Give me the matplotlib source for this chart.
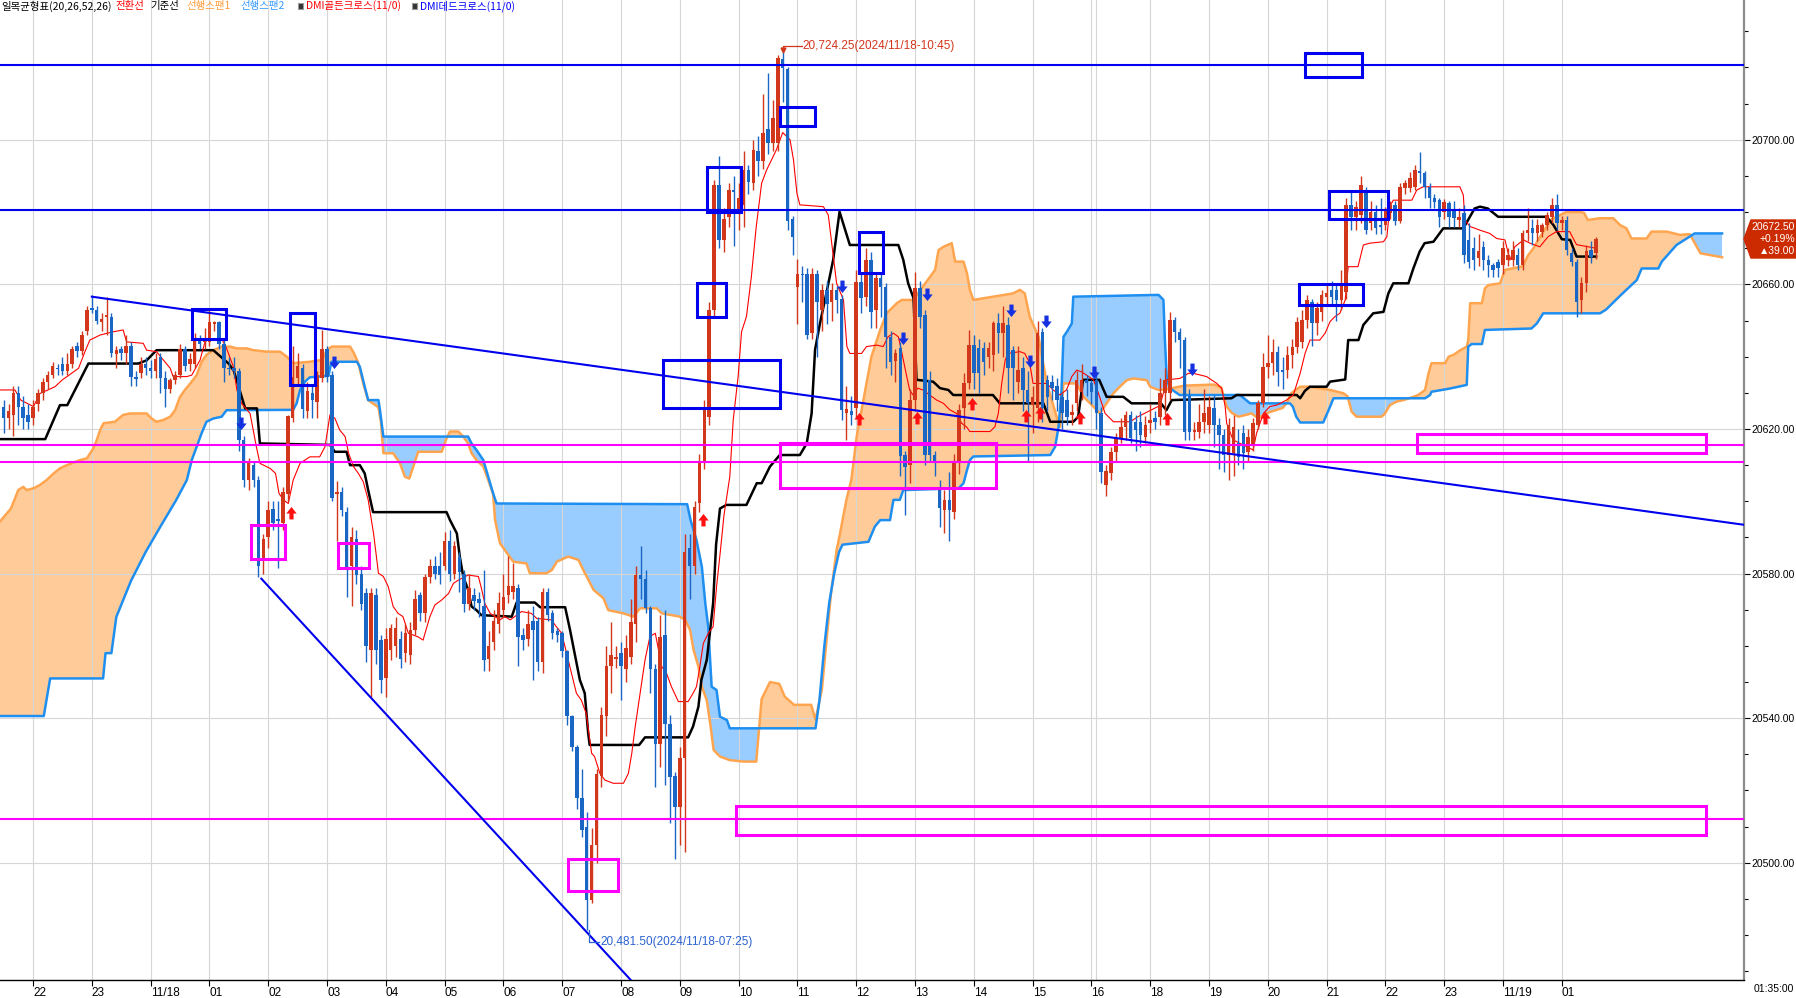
import numpy as np
import matplotlib.pyplot as plt
from matplotlib.patches import Rectangle, Polygon
from matplotlib.path import Path
from matplotlib.ticker import MultipleLocator, FormatStrFormatter

plt.rcParams['font.family'] = ['Liberation Sans', 'DejaVu Sans']

# 5-minute bars, 11/17 21:30 .. 11/19 01:35 (x = bar number)
opens = [
    20626, 20623, 20624, 20630, 20626, 20624, 20623, 20627, 20630, 20633,
    20635, 20637, 20638, 20636, 20638, 20643, 20641.5, 20647, 20653.5, 20653,
    20649.5, 20651, 20651, 20640.7, 20642, 20641, 20643, 20634.5, 20635.5, 20638,
    20637, 20636, 20640, 20634, 20631, 20633.5, 20635, 20642, 20638, 20638,
    20644.5, 20644, 20644, 20649, 20649.5, 20643.5, 20637, 20637, 20636, 20617,
    20606, 20610, 20606, 20584, 20590, 20598, 20595, 20594, 20602, 20623,
    20634, 20637, 20625, 20630, 20627.5, 20634, 20642, 20635, 20602, 20602.5,
    20597, 20582, 20589.5, 20580, 20574.5, 20559, 20574, 20561.5, 20551, 20559,
    20560, 20562, 20558, 20557.5, 20564.5, 20574, 20569, 20579, 20582, 20582,
    20582, 20589, 20580, 20584.5, 20580, 20571.5, 20574, 20573, 20571, 20556.5,
    20561, 20566, 20570, 20574, 20575, 20576, 20563, 20562, 20567, 20567,
    20555.5, 20575, 20569, 20564, 20563.5, 20558.5, 20540.5, 20532, 20518, 20510,
    20489.7, 20505, 20524, 20540.5, 20554.5, 20556.5, 20558, 20553.5, 20557, 20566,
    20579.5, 20578.5, 20570.5, 20553.5, 20533, 20563, 20538.5, 20524, 20515.5, 20529,
    20587, 20582, 20599.4, 20611, 20623.4, 20653, 20687.5, 20672.3, 20678.7, 20686,
    20680, 20681.9, 20691.6, 20688, 20697, 20694, 20703, 20699, 20699, 20722.3,
    20719.5, 20678, 20659.4, 20663, 20663, 20646.5, 20663, 20653, 20658.5, 20655,
    20658.5, 20656, 20624.3, 20625, 20625.7, 20660.8, 20656.6, 20666.7, 20653, 20661.7,
    20659.4, 20645.5, 20638.8, 20642.3, 20612.8, 20610, 20628, 20658.9, 20651.5, 20633.6,
    20612.8, 20603.6, 20597.6, 20600.4, 20597.1, 20611, 20625.7, 20632.6, 20643.2, 20642.3,
    20642.3, 20640, 20640.5, 20649.4, 20646.6, 20648.8, 20641.9, 20633.1, 20636.8, 20630.8,
    20626.6, 20625.7, 20646.9, 20633.6, 20633.1, 20632, 20628.9, 20628, 20623.8, 20627.1,
    20630.3, 20633.6, 20632.6, 20633.6, 20624.3, 20604.5, 20607.7, 20613.7, 20617.4, 20620.6,
    20623.9, 20622, 20622, 20617.9, 20621.6, 20623, 20623.4, 20629.9, 20629.9, 20650.1,
    20646.9, 20644.6, 20629, 20619.3, 20619.3, 20622, 20621.1, 20625.7, 20621.1, 20618.3,
    20612.8, 20613.3, 20616, 20618.8, 20613.7, 20615.6, 20621.1, 20627.1, 20637.2, 20638.2,
    20641.4, 20636.3, 20636.3, 20640.5, 20642.8, 20644.2, 20650.1, 20655.2, 20649.2, 20652.5,
    20656.6, 20658.4, 20658.4, 20655.7, 20658, 20682, 20678.7, 20679.2, 20686.1, 20676.9,
    20680.1, 20676.4, 20676.4, 20679.7, 20682, 20677.4, 20686.6, 20686.6, 20687, 20691.3,
    20690.7, 20687, 20683.8, 20683.3, 20680.1, 20682.5, 20680.6, 20677.8, 20679.7, 20672.3,
    20670, 20667.2, 20670.4, 20666.7, 20665.4, 20666.3, 20665.4, 20666.7, 20666.7, 20668.1,
    20665.4, 20674.1, 20675.5, 20674.1, 20674.6, 20676.4, 20678.7, 20682, 20676.9, 20677.8,
    20668.6, 20666.3, 20655.7, 20660.3, 20669.5, 20668.6]
highs = [
    20628, 20627, 20632, 20632, 20629, 20627, 20628, 20631, 20634, 20636,
    20638.5, 20638, 20640, 20641, 20643, 20644, 20647, 20654, 20657, 20654,
    20652, 20656.5, 20652, 20643, 20643, 20646, 20644, 20636, 20640, 20640,
    20639, 20641, 20641, 20636, 20634, 20636, 20643.5, 20643, 20641, 20646.5,
    20646, 20648, 20653, 20650, 20650, 20645, 20640, 20640, 20637, 20618,
    20612, 20611, 20607, 20591, 20600, 20600, 20600, 20604, 20624, 20643,
    20641, 20638, 20633, 20632, 20636, 20647.5, 20643, 20636, 20605.5, 20604,
    20598.5, 20593, 20592, 20582, 20576, 20576, 20576, 20563, 20565, 20566,
    20568, 20564, 20566, 20566.5, 20575.5, 20575, 20580, 20584, 20585, 20586,
    20591.5, 20592, 20589, 20586, 20581, 20580, 20576, 20575, 20581, 20564,
    20570, 20575, 20580, 20585, 20583, 20577, 20565, 20570, 20571, 20568,
    20576, 20576, 20570, 20565, 20564, 20559, 20541, 20532.5, 20526, 20514,
    20509.5, 20526, 20543, 20560, 20566.5, 20560, 20561, 20563, 20573, 20582,
    20587.5, 20581, 20571, 20555, 20568.5, 20570, 20541, 20525, 20532, 20591,
    20591, 20600, 20613, 20628, 20655, 20689, 20695.5, 20681, 20688, 20690,
    20688, 20697, 20693, 20700, 20701, 20712.8, 20718.4, 20711, 20723.5, 20724.25,
    20720, 20679, 20667, 20665, 20664.5, 20664.5, 20664, 20660, 20661, 20660.5,
    20659.5, 20657, 20632, 20629, 20664, 20663, 20670, 20669, 20663, 20663,
    20660.5, 20647, 20642, 20644, 20614, 20631, 20663.5, 20661, 20653, 20636,
    20614, 20606, 20603, 20608, 20613, 20627, 20635.5, 20647.5, 20646, 20645,
    20644, 20644, 20650, 20652, 20654, 20651, 20643, 20643, 20640, 20636,
    20632, 20650, 20648, 20635, 20635, 20634, 20630, 20631, 20627, 20636,
    20638, 20635, 20633.5, 20636, 20626, 20610, 20615, 20619, 20623, 20625,
    20625, 20624, 20625, 20623.5, 20627, 20625, 20634, 20637, 20652.5, 20651,
    20648, 20645.5, 20631, 20622, 20627, 20631, 20629, 20629.5, 20623, 20620,
    20623, 20624, 20620, 20621, 20620, 20623, 20628, 20641, 20646, 20645,
    20643, 20640, 20643, 20645, 20651, 20653, 20657, 20656, 20655, 20658.5,
    20660, 20661, 20660, 20664, 20684, 20686, 20683, 20690, 20687, 20683,
    20682, 20684, 20681.5, 20683, 20683, 20688, 20689, 20691, 20693, 20696.7,
    20691.5, 20688, 20685, 20684, 20683.5, 20683, 20683, 20681, 20682, 20677,
    20673, 20674, 20672, 20668, 20666, 20667, 20672, 20670, 20672, 20670,
    20675, 20681, 20678, 20678, 20677, 20680, 20684, 20685, 20679, 20679,
    20670, 20667, 20662, 20671, 20672, 20673]
lows = [
    20619, 20620, 20618, 20621, 20620, 20620, 20621, 20625, 20628, 20631,
    20634, 20635, 20635, 20635, 20637, 20640, 20640.5, 20646, 20652, 20649,
    20647, 20646, 20640, 20637, 20639, 20638, 20632, 20632, 20634, 20635,
    20634, 20634, 20630, 20626, 20630, 20632.5, 20634, 20636, 20636, 20637,
    20642, 20642, 20643, 20647, 20642, 20633, 20635, 20634, 20614, 20604,
    20603, 20604, 20579, 20580, 20587, 20592, 20581.5, 20592, 20600, 20622,
    20632, 20623, 20623, 20623, 20623, 20633, 20633, 20600, 20589, 20596,
    20573.5, 20571, 20577, 20570, 20555.5, 20546, 20555, 20547, 20546, 20556,
    20557, 20554, 20555.5, 20555, 20563, 20567, 20566.5, 20577.5, 20578.5, 20577,
    20581, 20578, 20578.5, 20575, 20569.5, 20570, 20570, 20568, 20553, 20553,
    20559, 20563.5, 20568, 20572, 20573, 20554.5, 20559, 20560, 20550.5, 20553,
    20552.5, 20567, 20562, 20561, 20557, 20538, 20531, 20515, 20507, 20481.5,
    20489, 20500, 20521, 20535, 20547, 20554, 20545, 20550, 20555, 20561,
    20573, 20569, 20547, 20521, 20526.5, 20521.5, 20511, 20501, 20505, 20503,
    20573, 20580, 20597, 20609, 20621, 20651, 20670, 20669, 20676, 20670.5,
    20675, 20676, 20685, 20686, 20690, 20692, 20696, 20697, 20697, 20710.5,
    20675, 20668, 20649, 20655, 20645, 20645, 20640, 20647, 20649, 20650,
    20652, 20622.5, 20617, 20621, 20623, 20652, 20654, 20648, 20648, 20651,
    20637, 20635, 20633, 20607, 20596.2, 20605, 20625, 20648, 20610, 20611,
    20607, 20593, 20591.1, 20589, 20595, 20607.5, 20620, 20631, 20631, 20630,
    20635, 20637, 20636, 20641, 20640, 20630, 20628, 20630, 20625, 20611,
    20619, 20622, 20622, 20625, 20628, 20625, 20620, 20621, 20621, 20625,
    20628, 20629, 20627, 20620, 20605, 20601.5, 20606, 20611, 20616, 20617,
    20616, 20614, 20615, 20616, 20619, 20620, 20621, 20624, 20628, 20644,
    20637, 20617, 20617, 20617, 20617.5, 20619, 20619, 20615, 20609, 20608,
    20606, 20607, 20610, 20609, 20611, 20614, 20620, 20626, 20634, 20635,
    20632, 20631, 20634, 20637, 20641, 20642.5, 20648, 20643, 20646, 20650,
    20654, 20654, 20650, 20653, 20656, 20675, 20675, 20677, 20674, 20675,
    20674, 20674, 20675, 20678, 20676.5, 20677, 20685, 20685.5, 20686, 20688,
    20684, 20681, 20681, 20676, 20678, 20676, 20676, 20676, 20666, 20664.5,
    20664, 20665, 20664, 20662, 20662, 20662, 20663, 20665, 20665, 20664,
    20664, 20672, 20671, 20672, 20673, 20675, 20677, 20675, 20675, 20668,
    20665, 20651, 20652, 20658, 20666, 20667]
closes = [
    20623, 20625, 20630, 20626, 20623, 20622, 20626, 20630, 20633, 20635,
    20637.5, 20636.5, 20636, 20638, 20642, 20641.5, 20646, 20653, 20653, 20650,
    20650.5, 20651.5, 20641, 20641.8, 20641, 20643, 20634.5, 20633.7, 20638, 20637,
    20636, 20639.5, 20634, 20631, 20633.5, 20635, 20642, 20637.5, 20639.5, 20645,
    20643.5, 20644.5, 20649.5, 20649.5, 20643.5, 20637, 20636.5, 20636, 20617, 20606,
    20610.5, 20606, 20582, 20589.5, 20597.5, 20594, 20594.5, 20602.5, 20623.5, 20634.5,
    20637.5, 20625.5, 20630.5, 20628, 20635, 20642, 20634.5, 20601, 20602.5, 20597.5,
    20581.5, 20590, 20579.5, 20571.5, 20560, 20574.5, 20559, 20550.5, 20562, 20565,
    20565, 20556.5, 20563.5, 20564.5, 20573, 20569, 20579, 20582, 20580, 20579.5,
    20589, 20580, 20587.5, 20580.5, 20571.5, 20576, 20572.5, 20572, 20556, 20560,
    20567, 20572, 20573.5, 20576.5, 20576.5, 20562.5, 20561.5, 20566, 20564.5, 20555.5,
    20575, 20568.5, 20563.5, 20563, 20558.5, 20540.5, 20532, 20518, 20509, 20489.7,
    20505, 20524.5, 20541, 20554.5, 20557.5, 20557, 20554.5, 20559.5, 20566.5, 20579.5,
    20578.5, 20570.5, 20553.5, 20533, 20562.5, 20538.5, 20523.8, 20515.5, 20529, 20586,
    20582, 20598.5, 20611, 20625.3, 20652.9, 20687.5, 20672.3, 20678, 20686, 20685.5,
    20684, 20691.6, 20688.4, 20697.2, 20694, 20702, 20699, 20706, 20722.7, 20719.8,
    20677.5, 20673, 20663, 20662.5, 20646, 20663, 20655, 20658.5, 20654.5, 20658.5,
    20655.7, 20625.3, 20625.5, 20624, 20660.8, 20656.2, 20666.7, 20652.5, 20661.7, 20659.4,
    20645.5, 20638.6, 20640.9, 20612.4, 20609.6, 20628, 20658.9, 20651.1, 20612.8, 20612.8,
    20610.5, 20598.1, 20600.4, 20597.6, 20611, 20625.3, 20632.6, 20643.2, 20635.4, 20635.4,
    20638.6, 20642.3, 20649.2, 20646.6, 20649.2, 20636.8, 20636.8, 20636.3, 20630.8, 20627.1,
    20628.9, 20646.5, 20625.7, 20628.9, 20631.3, 20628, 20624.3, 20623.4, 20624.8, 20633.6,
    20633.6, 20632.6, 20630.3, 20624.3, 20608.2, 20608.5, 20613.7, 20617.4, 20620.6, 20623.9,
    20617.4, 20619.7, 20618.3, 20621.1, 20622.5, 20622, 20629.9, 20633.6, 20650.1, 20646.9,
    20644.6, 20619.3, 20619.3, 20619.7, 20622, 20624.3, 20626.2, 20621.1, 20618.3, 20612.8,
    20621.1, 20620.6, 20612.3, 20613.3, 20617.9, 20621.6, 20627.1, 20637.2, 20638.2, 20641.4,
    20635.9, 20635.9, 20640.5, 20642.8, 20649.7, 20650.1, 20655.7, 20649.2, 20653.4, 20657.1,
    20657.5, 20656.6, 20655.7, 20660.3, 20682, 20678.7, 20681.5, 20687.5, 20675, 20680.1,
    20675.5, 20676, 20680.6, 20682, 20677.4, 20687, 20688, 20689.4, 20691.6, 20690.7,
    20687, 20683.8, 20682.9, 20678.7, 20682.9, 20678.7, 20678.3, 20678.7, 20668.1, 20666.3,
    20666.7, 20669.1, 20666.7, 20665.4, 20664, 20664.4, 20670, 20668.1, 20669.5, 20665.4,
    20674.1, 20675, 20674.1, 20676.4, 20676.4, 20679.2, 20682, 20676.9, 20677.8, 20669.5,
    20666.3, 20655.2, 20660.3, 20669.1, 20667.7, 20672.5]

# ichimoku lines as (bar, price) vertices
tenkan = [(-1, 20630.8), (2.3, 20630.8), (3.5, 20628), (6.1, 20626.2), (7.4, 20629.8), (10.5, 20631.7),
          (11.9, 20633.5), (15.3, 20636.8), (16.6, 20641.4), (17.6, 20644.6), (19.7, 20646), (22.4, 20646.9),
          (24.4, 20647.4), (25.1, 20644.1), (28.5, 20643.7), (29.2, 20641.8), (31.2, 20641.4), (32.6, 20639.1),
          (34, 20636.8), (34.6, 20634.5), (37.4, 20634.5), (38.4, 20634.9), (40.1, 20639.1), (41.1, 20644.1),
          (42.1, 20645), (44.5, 20645), (45.5, 20642.3), (46.9, 20637.2), (47.6, 20630.8), (48.6, 20627),
          (50.3, 20624.3), (51.6, 20615), (52.3, 20610.5), (54.4, 20609.1), (55.5, 20607.7), (56.2, 20602.2),
          (57.1, 20600.4), (58.1, 20599.4), (59.1, 20605.9), (60.5, 20610.5), (62.5, 20612.3), (64.5, 20612.3),
          (65.6, 20615.1), (66.6, 20623.9), (67.6, 20623), (68.6, 20619.7), (69.7, 20617.9), (70.4, 20613.3),
          (71.4, 20609.6), (72.4, 20607.7), (73.4, 20605.4), (74.4, 20600.4), (75.5, 20591.1), (76.5, 20580.1),
          (77.5, 20579.2), (78.5, 20576.4), (79.5, 20570.9), (80.5, 20569), (81.5, 20568.1), (82.6, 20563.5),
          (84.6, 20562.5), (85.6, 20561.6), (87, 20568.1), (88, 20571.3), (89.4, 20572.7), (90.8, 20574.5),
          (91.8, 20577.3), (92.8, 20578.2), (94.8, 20579.6), (96.9, 20579.2), (97.5, 20576), (98.2, 20571.8),
          (99.3, 20569), (100.3, 20568.1), (101.3, 20567.2), (102.3, 20568.1), (103.4, 20567.2), (105.7, 20569.5),
          (107.7, 20569), (108.8, 20567.6), (111.8, 20567.2), (112.8, 20565.3), (113.9, 20563.5), (114.9, 20557.9),
          (115.9, 20552.4), (116.9, 20546.9), (117.9, 20545), (118.9, 20541.3), (120, 20530.3), (120.6, 20529.4),
          (121.7, 20524.7), (122.7, 20522.9), (124.4, 20522), (126.5, 20522), (127.5, 20524.7), (128.2, 20530.3),
          (128.9, 20537.7), (129.9, 20546.9), (130.9, 20556.1), (131.9, 20562.6), (133, 20563.5), (134.3, 20554.3),
          (135.3, 20552.4), (136.3, 20548.7), (137.7, 20544.6), (139.7, 20544.6), (140.7, 20546.9), (141.4, 20548.7),
          (142.1, 20554.3), (142.8, 20560.7), (143.8, 20563.5), (144.8, 20565.3), (145.5, 20576.4), (146.3, 20586.5),
          (147, 20596), (148.2, 20606.8), (148.9, 20622.5), (149.9, 20634.5), (150.6, 20646.9), (151.6, 20651.1),
          (152.6, 20662.1), (153.6, 20676), (154.7, 20688), (155.7, 20691.6), (156.7, 20694.4), (157.7, 20697.2),
          (159, 20702), (160.5, 20700), (161.2, 20694.4), (161.9, 20685.2), (162.5, 20682), (167.3, 20681.5),
          (168.3, 20679.2), (169, 20671.4), (170, 20660.3), (171.4, 20655.7), (172.1, 20642.8), (172.7, 20640.9),
          (175.1, 20640.9), (176.1, 20642.8), (178.2, 20643.2), (179.5, 20642.8), (180.5, 20645.5), (181.6, 20646.5),
          (182.6, 20645.5), (183.2, 20641.9), (183.9, 20637.2), (184.9, 20630.8), (185.6, 20629.4), (186.6, 20631.3),
          (187.6, 20630.8), (189, 20629.4), (190.4, 20628), (191.8, 20627.1), (193.1, 20625.3), (194.5, 20624.3),
          (195.5, 20621.6), (196.5, 20620.6), (197.2, 20619.3), (201.3, 20619.3), (202.3, 20620.6), (203, 20624.3),
          (203.7, 20632.6), (204.4, 20639.1), (205, 20640.9), (207.4, 20641.4), (208.4, 20640.9), (209.4, 20638.2),
          (210.1, 20632.6), (212.9, 20632.6), (214.2, 20630.8), (215.6, 20629.4), (216.9, 20630.8), (218, 20634.5),
          (219, 20636.3), (220, 20635.8), (221, 20634.9), (222.4, 20633.6), (223.4, 20630), (224.8, 20624.3),
          (226.5, 20622), (229.9, 20622), (231.5, 20623.4), (236, 20626.5), (237.4, 20633.6), (240.1, 20634),
          (241.8, 20635.4), (242.8, 20635.4), (245.5, 20634.5), (247.6, 20632.6), (248.6, 20631.2), (249.3, 20626.2),
          (249.6, 20621.6), (250.9, 20617), (255, 20614.2), (255.7, 20618.8), (257.1, 20624.3), (258.4, 20626.2),
          (259.8, 20626.6), (261.8, 20628), (263.2, 20629.4), (264.6, 20635.4), (265.6, 20640.9), (266.6, 20644.6),
          (268.6, 20644.6), (269.7, 20646.5), (270.7, 20649.7), (271.7, 20651.1), (272.7, 20652), (273.8, 20655.7),
          (274.4, 20664.9), (276.4, 20664.9), (277.5, 20670.9), (278.8, 20671.4), (281.6, 20671.8), (282.3, 20673.2),
          (282.9, 20681.5), (283.6, 20683.3), (287.4, 20683.3), (288.4, 20686.1), (289.7, 20687), (297.2, 20687),
          (297.9, 20684.7), (298.2, 20677.8), (299.3, 20676), (301.3, 20675), (303.3, 20674.1), (304.7, 20672.7),
          (306.4, 20672.3), (307.4, 20666.7), (308.4, 20670.4), (310.2, 20672.3), (311.5, 20671.4), (313.5, 20670.4),
          (315.2, 20673.2), (316.9, 20674.6), (319.6, 20674.6), (321, 20671), (325, 20670)]

kijun = [(-1, 20617.2), (8.5, 20617.2), (11.5, 20626.6), (13, 20626.6), (17.3, 20638.1), (27.5, 20638.1),
         (29.2, 20639), (31.2, 20641.8), (42.8, 20641.8), (46, 20638), (47, 20636), (49.3, 20625.7),
         (51.7, 20625.7), (52.3, 20616), (66.6, 20615.6), (67.6, 20613.7), (70, 20613.7), (70.7, 20610),
         (72.7, 20610), (73.7, 20607.7), (74.4, 20603.1), (75.4, 20597), (90.4, 20597), (91.1, 20594.8),
         (92.5, 20591.1), (93.1, 20584.7), (93.8, 20579.2), (94.8, 20575.5), (95.5, 20570.9), (96.5, 20569.9),
         (97.5, 20568.5), (103.7, 20568.1), (104.7, 20572), (108.4, 20572), (109.5, 20570.7), (114.6, 20570.7),
         (115.6, 20564.4), (117.6, 20550.6), (118.6, 20546.9), (119.3, 20535.8), (119.6, 20532.6), (129.7, 20532.6),
         (130.9, 20534.7), (139.7, 20534.7), (140.7, 20537.7), (141.8, 20543.2), (142.4, 20550.6), (143.5, 20556.1),
         (144.2, 20564.4), (144.8, 20571.8), (145.4, 20588), (146.2, 20598), (147.5, 20599), (151.6, 20599),
         (153.7, 20605), (154.7, 20605), (156.4, 20609.6), (158.4, 20612.8), (162.5, 20612.8), (163.9, 20616),
         (164.9, 20624.3), (165.6, 20641.9), (166.6, 20649.2), (167.9, 20657.5), (169.3, 20666.8), (170.6, 20680.1),
         (172.7, 20670.9), (182.6, 20670.9), (183.6, 20666.8), (184.6, 20660.3), (185.7, 20656.2), (186.3, 20633.6),
         (189.7, 20633.1), (191.1, 20631.3), (192.8, 20630.8), (193.8, 20629.4), (201.9, 20629.4), (203.3, 20627.1),
         (212.2, 20627.1), (213.6, 20622), (218.3, 20622), (219.3, 20623.4), (220.3, 20633.6), (223.6, 20633.6),
         (225.1, 20628.9), (228.5, 20628.9), (230.2, 20627.1), (236.2, 20627.1), (237.3, 20625.2), (238.4, 20628),
         (250.6, 20628.5), (251.6, 20629.4), (263.9, 20629.4), (264.6, 20628.5), (265.6, 20630.6), (266.6, 20631.7),
         (270, 20631.7), (270.7, 20633.1), (273.8, 20633.7), (274.4, 20644.6), (276.5, 20644.6), (277.5, 20648.8),
         (279.5, 20652), (281.6, 20652.4), (282.6, 20657.5), (283.6, 20660.3), (286.7, 20660.3), (287.7, 20664.4),
         (289, 20669.1), (290, 20671.4), (291.8, 20671.8), (293.8, 20675.5), (297.9, 20675.5), (300.2, 20681),
         (301.3, 20681.5), (302.9, 20681), (305, 20678.7), (314.9, 20678.7), (316.3, 20676.4), (318, 20672.5),
         (319.7, 20672.3), (321, 20667.7), (325, 20667.7)]

span1 = [(-1, 20594), (1.5, 20598), (3, 20603.1), (4, 20604), (4.7, 20603.1), (6.1, 20603.6), (7.4, 20604.5),
         (8.8, 20605.9), (10.2, 20607.7), (11.5, 20609.1), (12.9, 20610), (15.6, 20611.4), (17, 20611.9),
         (18.3, 20614.6), (19, 20616.9), (19.7, 20619.7), (20.4, 20621.6), (22.7, 20622), (24.4, 20623.9),
         (25.8, 20624.3), (29.2, 20624.3), (30.2, 20622.9), (31.2, 20622), (32.6, 20622.5), (34, 20623.4),
         (35, 20625.2), (36, 20628.9), (37, 20630.8), (38.1, 20632.6), (39.4, 20634.9), (40.4, 20638.6),
         (41.4, 20640.5), (42.8, 20641.8), (44.5, 20642.8), (46.2, 20642.8), (47.6, 20642.3), (49.6, 20642.3),
         (51, 20641.8), (53.7, 20641.4), (56.4, 20641.4), (57.8, 20640), (59.1, 20638.2), (62.5, 20638.6),
         (65, 20639.1), (66, 20641.9), (67, 20642.8), (70.7, 20642.8), (71.5, 20641), (72.4, 20638.2),
         (73.5, 20632), (74.4, 20628), (76.5, 20626), (77, 20622), (77.5, 20613.3), (79.5, 20613.3),
         (80.9, 20610.5), (81.9, 20606.8), (82.8, 20606.3), (83.6, 20609.6), (84.6, 20613.7), (89.4, 20613.7),
         (90.4, 20617.4), (91.1, 20619.3), (92.8, 20619.3), (93.8, 20617.9), (94.8, 20616), (95.5, 20613.3),
         (96.5, 20611.4), (97.9, 20609.6), (98.9, 20605.9), (99.9, 20602), (100.3, 20594.8), (101.3, 20588.4),
         (104, 20583.3), (106.7, 20582.8), (107.4, 20580.1), (110.8, 20580.1), (111.9, 20581), (112.9, 20583.3),
         (115.2, 20584.7), (117.3, 20583.8), (118.3, 20581), (120.4, 20575.5), (122.4, 20573.2), (123.4, 20569.9),
         (126.5, 20569), (128.5, 20568.1), (129.9, 20570.4), (133.3, 20570.4), (134.3, 20569), (138, 20568.1),
         (139.1, 20567.2), (140.1, 20564.4), (140.8, 20558.9), (141.8, 20554.3), (142.5, 20548.7), (143.5, 20545),
         (144.2, 20538.6), (144.9, 20531.2), (146.2, 20529.4), (148.2, 20528.4), (151, 20528), (153.6, 20528),
         (154.7, 20545.3), (156.4, 20550), (158.3, 20549.5), (159.4, 20546), (161.3, 20543.7), (164.8, 20543.7),
         (165.7, 20539.6), (167, 20548), (168.8, 20573.8), (170, 20586.5), (170.7, 20591.1), (172, 20600.4),
         (173, 20605.9), (174.1, 20617.9), (175.1, 20625.3), (176.1, 20632.6), (177.1, 20640), (178.9, 20647.4),
         (180.2, 20652), (182.3, 20654.8), (183.3, 20655.7), (185.6, 20655.7), (190.1, 20664), (190.8, 20669.5),
         (191.8, 20670.4), (193.5, 20671.4), (194.2, 20666.3), (195.9, 20666.3), (196.6, 20663.1), (197.2, 20658.5),
         (197.9, 20655.7), (201.9, 20656.6), (206, 20657.5), (207.4, 20658.5), (208.4, 20657.5), (209.4, 20651.1),
         (211.2, 20645.5), (212.9, 20632.6), (213.9, 20628), (214.9, 20623.4), (215.6, 20620.6), (216, 20628),
         (216.3, 20632.6), (219, 20632.6), (220.4, 20628.9), (222.4, 20626.2), (223.7, 20624.3), (226.5, 20629.9),
         (227.8, 20631.7), (229.2, 20633.5), (230.6, 20634), (233.3, 20633.5), (234, 20631.7), (235.7, 20630.8),
         (237.4, 20631), (241, 20632), (247, 20632.3), (248.5, 20631.5), (249.6, 20626.2), (250.6, 20624.5),
         (252, 20623.4), (254.7, 20624.3), (256, 20623), (258, 20624.5), (261, 20625.8), (261.8, 20627.1),
         (262.8, 20629.9), (264.6, 20631.7), (266.3, 20631.7), (270.7, 20630.8), (273.4, 20629.9), (274.3, 20629),
         (275.1, 20624.8), (276.1, 20623.4), (281.2, 20623.4), (281.9, 20624.3), (282.9, 20626.6), (284.3, 20627.6),
         (285.7, 20628), (287.7, 20628.9), (288.7, 20629.4), (290.1, 20630.8), (290.8, 20635.4), (291.4, 20638.2),
         (294.2, 20638.2), (294.9, 20640), (295.9, 20640.5), (297.3, 20641.8), (298.6, 20642.8), (298.9, 20644.6),
         (299.3, 20654.8), (301.7, 20654.8), (302.3, 20658.9), (303, 20659.8), (305.4, 20660.3), (306.4, 20664),
         (310, 20665), (311.1, 20668), (312.2, 20670), (313.5, 20673), (314.9, 20676), (315.9, 20678),
         (318.9, 20680), (321.9, 20680), (322.6, 20679.7), (323.3, 20677.8), (325.8, 20678.3), (328.5, 20678.3),
         (329.9, 20676.4), (331.2, 20675.5), (332.2, 20672.7), (335.3, 20672.7), (336.3, 20674.6), (339.4, 20674.6),
         (342.1, 20673.7), (344.1, 20673.9), (346.3, 20668.6), (350.7, 20667.5)]

span2 = [(-1, 20540.6), (8.2, 20540.6), (9.5, 20551), (20.3, 20551), (20.8, 20558), (22, 20558), (23, 20568),
         (26, 20578), (29, 20586), (32, 20593), (35.2, 20600.3), (37.4, 20605.9), (38.4, 20611.4), (39.4, 20615.1),
         (40.4, 20618.8), (41.4, 20622), (42.8, 20622.9), (44.5, 20623.4), (45.5, 20625.2), (59.1, 20625.3),
         (59.8, 20627.1), (60.5, 20630.8), (61.5, 20633.1), (62.5, 20634.3), (66.3, 20634.7), (66.9, 20638.6),
         (72.1, 20638.6), (72.7, 20637.2), (73.7, 20631.7), (74.4, 20628), (76.5, 20628), (76.8, 20625.3),
         (77.5, 20617.9), (94.8, 20617.9), (95.5, 20616), (96.5, 20614.2), (97.9, 20611.4), (98.9, 20606.8),
         (99.9, 20602.2), (100.6, 20599.4), (139.5, 20599.2), (140.2, 20594.8), (141.4, 20589.3), (142.5, 20581.9),
         (143.2, 20571.8), (143.8, 20565.3), (144.5, 20548.7), (145.5, 20547.8), (146.2, 20540.4), (147.6, 20539.5),
         (148.2, 20537.2), (165.7, 20537.2), (166.5, 20545), (167.5, 20560), (168.5, 20572), (169.5, 20580),
         (170.5, 20586), (171.2, 20588), (176.5, 20588.8), (177.8, 20593), (178.9, 20594.8), (180.9, 20594.8),
         (181.6, 20600.4), (182.9, 20600.4), (183.6, 20603.1), (194.9, 20603.6), (195.9, 20605), (196.6, 20608.6),
         (197.2, 20611.4), (197.9, 20612.4), (213.6, 20612.8), (214.6, 20615.1), (215.3, 20620.6), (215.9, 20630.8),
         (216.3, 20645.5), (217, 20646.9), (218, 20649.2), (218.3, 20656.6), (235.7, 20657.1), (236.7, 20655.7),
         (237, 20644.6), (237.4, 20633.6), (238.1, 20631.2), (240, 20629.4), (252.3, 20629.4), (254.4, 20627.1),
         (262.5, 20627.1), (263.1, 20626.2), (263.8, 20623.4), (264.6, 20621.8), (269.3, 20621.8), (270.4, 20625.2),
         (271.4, 20628.5), (290.1, 20628.5), (291.1, 20629.4), (291.4, 20630.3), (295.2, 20631.2), (298.6, 20632.2),
         (298.9, 20642.8), (299.6, 20643.5), (301.7, 20643.5), (302.3, 20647.4), (311.8, 20647.8), (312.9, 20649.2),
         (314.2, 20652), (325.8, 20652), (327, 20653), (330, 20657), (333.3, 20661.2), (334.3, 20664.4),
         (337.7, 20664.4), (338.4, 20666.3), (341.4, 20670.9), (345.1, 20674.1), (350.7, 20674.1)]

# DMI signals (bar, price where the arrow sits)
dead_cross = [(48.5, 20621.5), (67.5, 20638.2), (171.1, 20659.4), (183.6, 20645), (188.5, 20657),
              (205.6, 20652.6), (209.5, 20638.6), (212.7, 20649.7), (222.6, 20635.4), (242.6, 20636.3)]
golden_cross = [(58.6, 20597.1), (142.7, 20595), (174.6, 20623), (186.5, 20623.4), (197.6, 20627.1),
                (208.6, 20623.9), (211.5, 20624.8), (219.7, 20623.4), (237.4, 20623), (257.4, 20623.4)]

# user drawings
blue_levels = [20720.6, 20680.7]
magenta_levels = [20615.7, 20610.9, 20512.1]
trend_lines = [((18.0, 20656.6), (355.2, 20593.5)), ((52.6, 20578.6), (133.0, 20460.2))]
blue_boxes = [(38.35, 45.39, 20644.8, 20653.1), (58.45, 63.55, 20632.3, 20652.1),
              (134.65, 158.45, 20625.7, 20639.1), (141.45, 147.43, 20650.9, 20660.3),
              (143.49, 150.49, 20680.1, 20692.6), (158.45, 165.59, 20703.8, 20709.2),
              (174.51, 179.41, 20663.2, 20674.6), (265.59, 277.31, 20717.4, 20724.1),
              (270.43, 282.53, 20678.1, 20685.9), (264.43, 277.49, 20654.3, 20660.1)]
magenta_boxes = [(50.49, 57.43, 20583.9, 20593.4), (68.31, 74.57, 20581.5, 20588.4),
                 (115.24, 125.33, 20492.3, 20501.1), (158.45, 202.53, 20603.6, 20616.2),
                 (149.39, 347.43, 20507.6, 20515.8), (288.39, 347.43, 20613.3, 20618.6)]

hour_ticks = [6, 18, 30, 42, 54, 66, 78, 90, 102, 114, 126, 138, 150, 162, 174, 186, 198, 210, 222,
              234, 246, 258, 270, 282, 294, 306, 318]
hour_labels = ['22', '23', '11/18', '01', '02', '03', '04', '05', '06', '07', '08', '09', '10', '11', '12',
               '13', '14', '15', '16', '18', '19', '20', '21', '22', '23', '11/19', '01']

RED = '#D2361B'
BLUE = '#1A66C4'
W, H = 1796, 998

fig = plt.figure(figsize=(W / 100, H / 100), dpi=100)
ax = fig.add_axes([0, 18 / H, 1744 / W, 980 / H])
ax.set_xlim(-0.735, 355.18)
ax.set_ylim(20467.58, 20738.67)

# grid
for t in hour_ticks + [223]:
    ax.axvline(t, color='#D6D6D6', lw=0.8, zorder=1.5)
for p in range(20500, 20701, 40):
    ax.axhline(p, color='#D6D6D6', lw=0.8, zorder=1.5)

# cloud
s1x, s1y = np.array(span1).T
s2x, s2y = np.array(span2).T
xg = np.linspace(-1, 350.7, 8000)
g1 = np.interp(xg, s1x, s1y)
g2 = np.interp(xg, s2x, s2y)
ax.fill_between(xg, g1, g2, where=g1 >= g2, interpolate=True, color='#FFCC99', lw=0, zorder=1)
ax.fill_between(xg, g1, g2, where=g1 < g2, interpolate=True, color='#99CCFF', lw=0, zorder=1)
ax.plot(s1x, s1y, color='#FFA54F', lw=1.8, zorder=2)
ax.plot(s2x, s2y, color='#1E8FF0', lw=1.8, zorder=2)

kx, ky = np.array(kijun).T
tx, ty = np.array(tenkan).T
ax.plot(kx, ky, color='black', lw=1.8, zorder=3)
ax.plot(tx, ty, color='#FF0000', lw=0.8, zorder=3)

# candles
o = np.array(opens)
hi = np.array(highs)
lo = np.array(lows)
c = np.array(closes)
idx = np.arange(len(c))
cols = np.where(c >= o, RED, BLUE)
ax.vlines(idx, lo, hi, colors=cols, lw=1, zorder=4)
ax.bar(idx, np.maximum(np.abs(c - o), 0.5), bottom=np.minimum(o, c), width=0.72,
       color=cols, lw=0, zorder=4)

# drawings
for p in blue_levels:
    ax.axhline(p, color='#0000EE', lw=1.5, zorder=5)
for p in magenta_levels:
    ax.axhline(p, color='#FF00FF', lw=1.5, zorder=5)
for (x0, y0), (x1, y1) in trend_lines:
    ax.plot([x0, x1], [y0, y1], color='#0000EE', lw=1.5, zorder=5)
for x0, x1, y0, y1 in blue_boxes:
    ax.add_patch(Rectangle((x0, y0), x1 - x0, y1 - y0, fill=False, ec='#0000EE', lw=2.2, zorder=6))
for x0, x1, y0, y1 in magenta_boxes:
    ax.add_patch(Rectangle((x0, y0), x1 - x0, y1 - y0, fill=False, ec='#FF00FF', lw=2.2, zorder=6))

# DMI arrows
down = Path([(-0.3, 1), (0.3, 1), (0.3, 0.15), (0.75, 0.15), (0, -0.8), (-0.75, 0.15),
             (-0.3, 0.15), (-0.3, 1)], closed=True)
up = Path([(x, -y) for x, y in down.vertices], closed=True)
dx, dy = np.array(dead_cross).T
gx, gy = np.array(golden_cross).T
ax.plot(dx, dy, ls='none', marker=down, ms=10, color='#1530E0', mec='none', zorder=7)
ax.plot(gx, gy, ls='none', marker=up, ms=10, color='#FF1010', mec='none', zorder=7)

# high / low annotations
ax.plot([159, 159, 162.9], [20724.7, 20726.0, 20726.0], color=RED, lw=0.9, zorder=7)
ax.plot([159], [20724.9], marker='v', ms=3.5, color=RED, zorder=7)
ax.text(163.1, 20726.0, '20,724.25(2024/11/18-10:45)', color=RED, fontsize=8.5,
        va='center', ha='left', zorder=8)
ax.plot([119.5, 119.5, 121.6], [20481.5, 20478.2, 20478.2], color='#2A62D0', lw=0.9, zorder=7)
ax.text(121.9, 20478.2, '20,481.50(2024/11/18-07:25)', color='#2A62D0', fontsize=8.5,
        va='center', ha='left', zorder=8)

# axes styling
for s in ('top', 'left'):
    ax.spines[s].set_visible(False)
ax.spines['right'].set_color('#8C8C8C')
ax.spines['right'].set_linewidth(1.6)
ax.spines['bottom'].set_color('black')
ax.spines['bottom'].set_linewidth(1.0)
ax.yaxis.tick_right()
ax.set_yticks(range(20500, 20701, 40))
ax.yaxis.set_minor_locator(MultipleLocator(10))
ax.yaxis.set_major_formatter(FormatStrFormatter('%.2f'))
ax.tick_params(axis='y', which='major', direction='out', length=4, width=0.8, labelsize=7.5, pad=1)
ax.tick_params(axis='y', which='minor', direction='out', length=3, width=0.8)
ax.set_xticks(hour_ticks)
ax.set_xticklabels(hour_labels, ha='left')
ax.tick_params(axis='x', direction='out', length=4, width=0.8, labelsize=8.5, pad=1)

fig.text(1794 / W, 1 - 989 / H, '01:35:00', ha='right', va='center', fontsize=7.5)

# last price tag
tag = [(1744, 239), (1751, 220), (1796, 220), (1796, 258), (1751, 258)]
fig.patches.append(Polygon([(x / W, 1 - y / H) for x, y in tag], closed=True,
                           transform=fig.transFigure, color='#CC2A00', zorder=10))
for yy, s in [(227, '20672.50'), (239, '+0.19%'), (251, '\u25b239.00')]:
    fig.text(1795 / W, 1 - yy / H, s, color='white', ha='right', va='center', fontsize=7.5,
             family=['Liberation Sans', 'DejaVu Sans'], zorder=11)

# indicator legend along the top edge
legend_items = [(1, '일목균형표(20,26,52,26)', 'black'), (115, '전환선', '#FF0000'),
                (150, '기준선', 'black'), (186, '선행스팬1', '#FF9933'),
                (240, '선행스팬2', '#3399FF'), (306, 'DMI골든크로스(11/0)', '#FF0000'),
                (420, 'DMI데드크로스(11/0)', '#0000FF')]
for x, s, col in legend_items:
    fig.text(x / W, 1 - 6 / H, s, color=col, ha='left', va='center', fontsize=7.5,
             family=['Noto Sans CJK KR', 'DejaVu Sans'])
for x in (298, 412):
    fig.patches.append(Rectangle((x / W, 1 - 9 / H), 5 / W, 6 / H, transform=fig.transFigure,
                                 fc='#333333', ec='#999999', lw=0.8, zorder=10))

fig.savefig('out.png', dpi=100)
